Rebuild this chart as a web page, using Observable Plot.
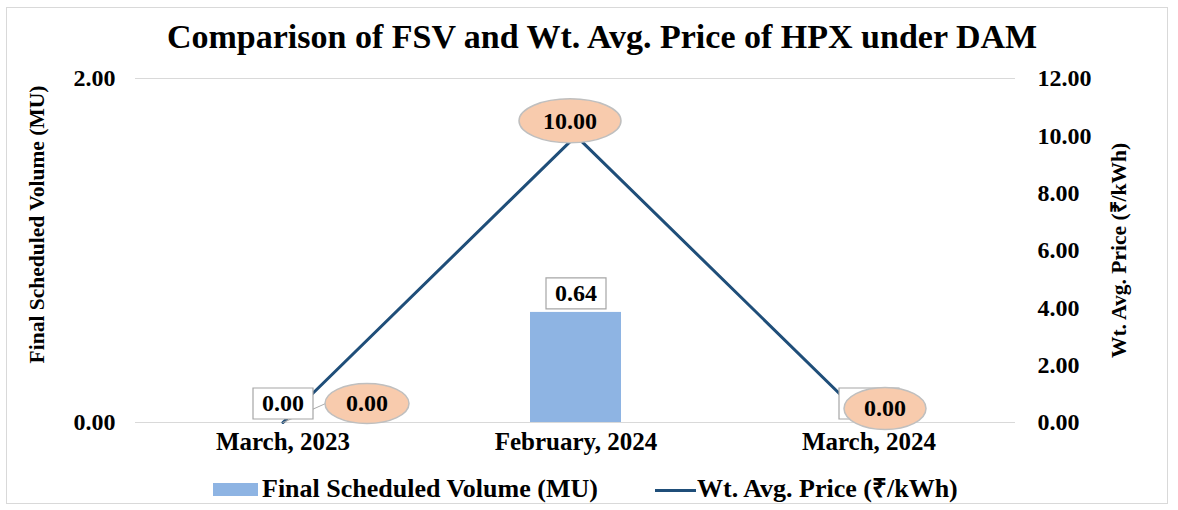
<!DOCTYPE html>
<html><head><meta charset="utf-8">
<script src="https://cdn.jsdelivr.net/npm/d3@7"></script>
<script src="https://cdn.jsdelivr.net/npm/@observablehq/plot@0.6"></script>
<style>
body{margin:0;background:#fff;font-family:"Liberation Serif","Times New Roman",serif;}
#wrap{position:relative;width:1178px;height:510px;overflow:hidden;background:#fff;}
#frame{position:absolute;left:6px;top:7px;width:1162px;height:497px;border:1px solid #D9D9D9;box-sizing:border-box;}
#title{position:absolute;left:13px;width:1178px;top:20px;text-align:center;font-size:34px;line-height:34px;font-weight:bold;color:#000;}
#chart{position:absolute;left:0;top:62px;}
.leg{position:absolute;font-size:26px;font-weight:bold;line-height:26px;white-space:nowrap;color:#000;}
.sw{position:absolute;}
</style></head><body>
<div id="wrap"><div id="frame"></div><div id="title"></div><div id="chart"></div><div id="legend"></div></div>
<script>
const title = "Comparison of FSV and Wt. Avg. Price of HPX under DAM";
const months = ["March, 2023", "February, 2024", "March, 2024"];
const fsv = [0, 0.64, 0];
const price = [0, 10, 0];
const leftTicks = [0, 2];
const rightTicks = [0, 2, 4, 6, 8, 10, 12];
const seriesNames = ["Final Scheduled Volume (MU)", "Wt. Avg. Price (₹/kWh)"];
const axisTitles = ["Final Scheduled Volume (MU)", "Wt. Avg. Price (₹/kWh)"];

const ratio = 12 / 2; // right axis max / left axis max
const data = months.map((m, i) => ({month: m, fsv: fsv[i], price: price[i]}));

const BAR = "#8EB4E3", LINE = "#1F4E79", PEACH = "#F8CBAD";
const FONT = "'Liberation Serif','Times New Roman',serif";

function boxSymbol(w, h) {
  return {draw(ctx) { ctx.rect(-w / 2, -h / 2, w, h); }};
}
function ellipseSymbol(rx, ry) {
  const k = 0.5523;
  return {draw(ctx) {
    ctx.moveTo(rx, 0);
    ctx.bezierCurveTo(rx, ry * k, rx * k, ry, 0, ry);
    ctx.bezierCurveTo(-rx * k, ry, -rx, ry * k, -rx, 0);
    ctx.bezierCurveTo(-rx, -ry * k, -rx * k, -ry, 0, -ry);
    ctx.bezierCurveTo(rx * k, -ry, rx, -ry * k, rx, 0);
    ctx.closePath();
  }};
}
const plain = {draw(ctx, l) { ctx.moveTo(0, 0); ctx.lineTo(0, -l); }};

// label placements (pixel offsets / ellipse radii) per point
const priceLabelStyle = [
  {dx: 84, dy: -19, rx: 42, ry: 20},
  {dx: -6, dy: -15, rx: 51, ry: 22},
  {dx: 16, dy: -14, rx: 41, ry: 21}
];

const textStyle = {fontFamily: FONT, fontWeight: "bold", fill: "#000"};

const marks = [
  Plot.ruleY(leftTicks, {stroke: "#D9D9D9", strokeWidth: 1}),
  Plot.barY(data, {x: "month", y: "fsv", fill: BAR, insetLeft: 101, insetRight: 101}),
  Plot.line(data, {x: "month", y: d => d.price / ratio, stroke: LINE, strokeWidth: 3}),
  Plot.vector([data[0]], {x: "month", y: d => d.price / ratio, length: 47, rotate: 66, anchor: "start", shape: plain, stroke: "#A6A6A6", strokeWidth: 1}),
  Plot.dot(data, {x: "month", y: "fsv", symbol: boxSymbol(60, 31), fill: "#fff", stroke: "#A6A6A6", strokeWidth: 1.2, dy: -19}),
  Plot.text(data, {x: "month", y: "fsv", text: d => d.fsv.toFixed(2), dy: -19, fontSize: 24, ...textStyle}),
  ...data.map((d, i) => {
    const s = priceLabelStyle[i];
    return [
      Plot.dot([d], {x: "month", y: d => d.price / ratio, symbol: ellipseSymbol(s.rx, s.ry), fill: PEACH, stroke: "#BFBFBF", strokeWidth: 1.5, dx: s.dx, dy: s.dy}),
      Plot.text([d], {x: "month", y: d => d.price / ratio, text: d => d.price.toFixed(2), dx: s.dx, dy: s.dy, fontSize: 24, ...textStyle})
    ];
  }).flat(),
  Plot.axisX({tickSize: 0, tickPadding: 10, fontSize: 25, ...textStyle, label: null}),
  Plot.axisY({ticks: leftTicks, tickFormat: d => d.toFixed(2), tickSize: 0, tickPadding: 20, fontSize: 24, ...textStyle, label: null}),
  Plot.axisY({anchor: "right", ticks: rightTicks.map(v => v / ratio), tickFormat: d => (d * ratio).toFixed(2), tickSize: 0, tickPadding: 22, fontSize: 24, ...textStyle, textAnchor: "start", label: null}),
  Plot.text([axisTitles[0]], {frameAnchor: "left", textAnchor: "middle", lineAnchor: "middle", dx: -98, dy: -26, rotate: -90, fontSize: 21.5, ...textStyle}),
  Plot.text([axisTitles[1]], {frameAnchor: "right", textAnchor: "middle", lineAnchor: "middle", dx: 104, dy: 0, rotate: -90, fontSize: 21.5, ...textStyle})
];

const chart = Plot.plot({
  width: 1178,
  height: 400,
  marginTop: 16,
  marginBottom: 40,
  marginLeft: 135,
  marginRight: 163,
  style: {fontFamily: FONT, background: "transparent", overflow: "visible", color: "#000"},
  x: {type: "band", domain: months, padding: 0},
  y: {domain: [0, 2]},
  marks
});
document.getElementById("chart").appendChild(chart);
document.getElementById("title").textContent = title;

const legend = document.getElementById("legend");
legend.innerHTML = `
  <div class="sw" style="left:213px;top:483px;width:45px;height:13px;background:${BAR}"></div>
  <div class="leg" style="left:262px;top:476px">${seriesNames[0]}</div>
  <div class="sw" style="left:655px;top:488.5px;width:41px;height:3px;background:${LINE}"></div>
  <div class="leg" style="left:697px;top:476px">${seriesNames[1]}</div>`;
</script>
</body></html>
